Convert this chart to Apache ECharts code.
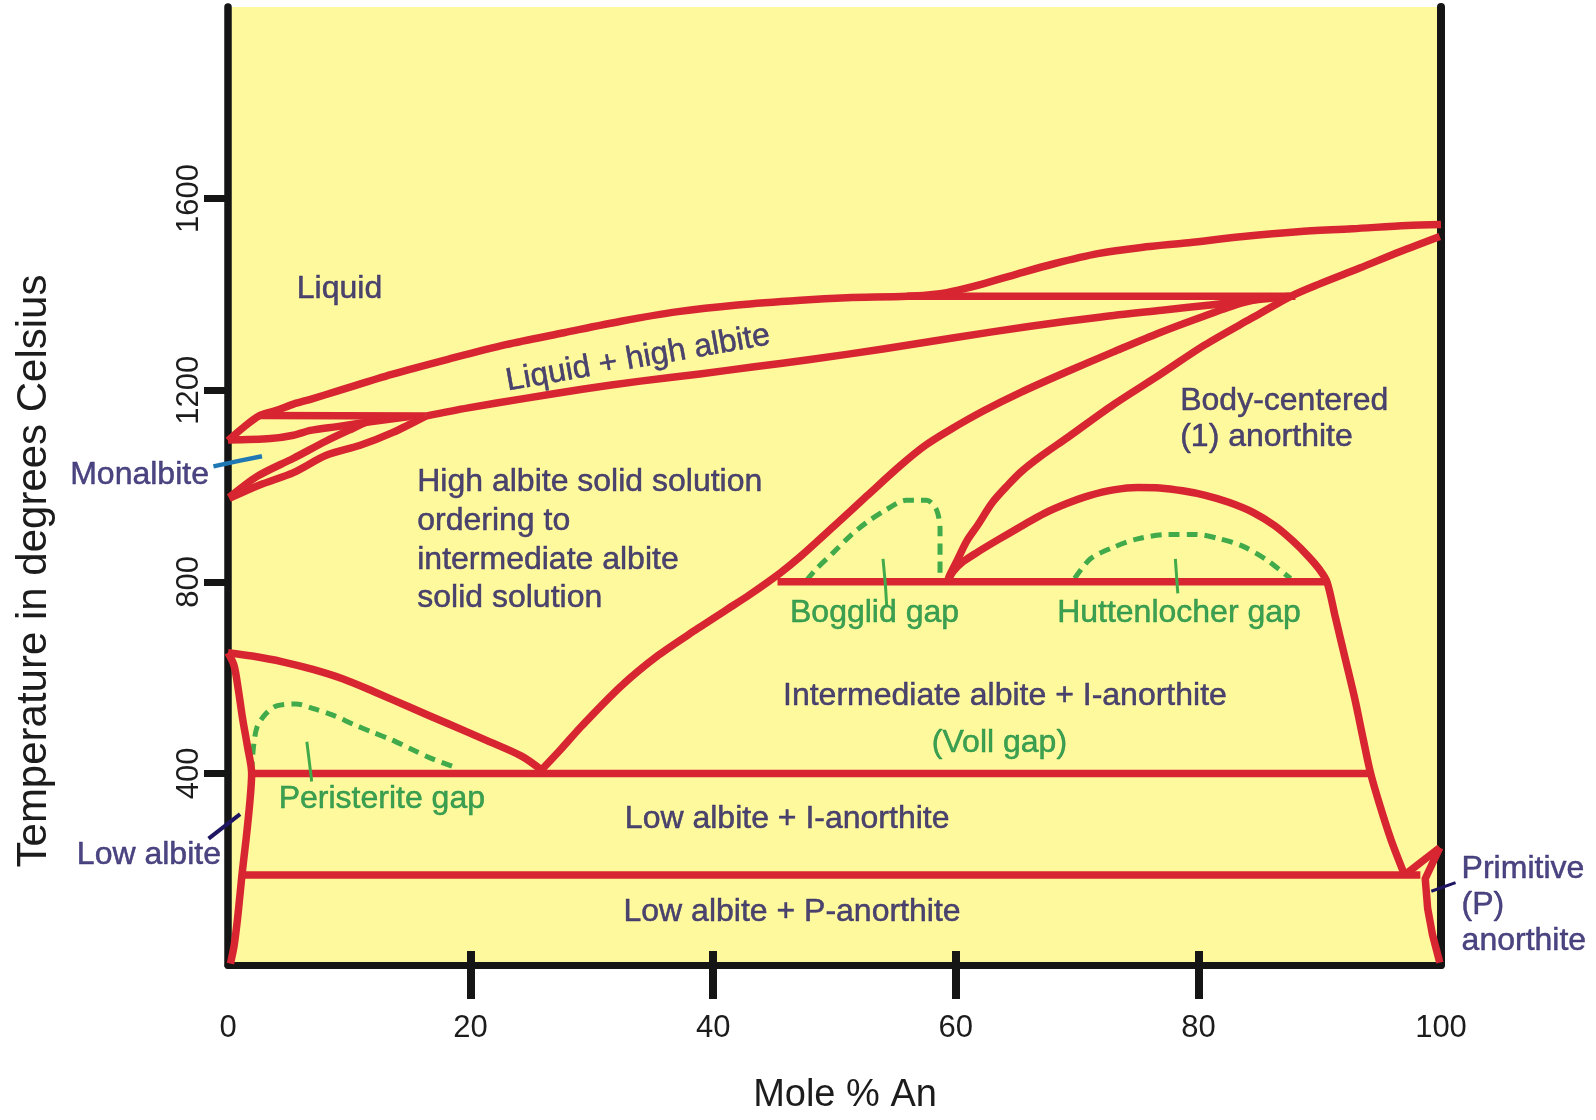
<!DOCTYPE html>
<html><head><meta charset="utf-8">
<script src="https://cdn.jsdelivr.net/npm/echarts@6/dist/echarts.min.js"></script>
<style>html,body{margin:0;padding:0;background:#fff}#c{width:1596px;height:1120px}</style>
</head><body><div id="c"></div>
<script>
// ---- axis ticks ----
const xTickValues = [20, 40, 60, 80];
const xLabelValues = [0, 20, 40, 60, 80, 100];
const yTickValues = [400, 800, 1200, 1600];

// ---- phase boundaries (Mole % An, temperature C) ----
const liquidus = [[0,1095],[1.3,1123],[2.6,1147],[4.0,1158],[5.4,1171],[6.8,1181],[9.0,1198],[13.5,1233],[18.2,1265],[22.9,1295],[27.7,1320],[32.4,1344],[37.1,1364],[42,1378],[47.2,1388],[51,1393],[56,1396],[58.5,1401],[60.2,1409],[62.4,1423],[65.1,1443],[68.1,1464],[71.7,1485],[75.3,1498],[79.2,1508],[83.7,1521],[88.2,1531],[92.7,1537],[97.2,1544],[100,1546]];
const tipBar = [[2.6,1147],[16.3,1146]];
const albiteSolidus = [[0,1096],[3.5,1099],[5.4,1106],[6.8,1116],[9.0,1124],[11.4,1133],[15,1145]];
const monalbiteUpper = [[0.1,976],[2.4,1020],[5.4,1058],[8.1,1094],[10.1,1118],[11.6,1135],[13,1145]];
const monalbiteLower = [[0.1,974],[2.6,1002],[5.4,1028],[8.1,1064],[10.9,1085],[13.6,1112],[16.3,1146]];
const solidus = [[16.3,1146],[19.8,1163],[24.5,1183],[29.2,1202],[34.0,1219],[38.9,1234],[43.4,1249],[48,1264],[54,1286],[60,1310],[66,1333],[72,1353],[77,1367],[81,1378],[84.5,1388],[87.5,1396]];
const plateau = [[56,1396],[88,1396]];
const anorthiteBoundary = [[99.9,1521],[96.6,1489],[93.3,1455],[90,1422],[87.7,1397],[84.3,1349],[80.5,1294],[76.8,1232],[73.0,1170],[69.2,1101],[67,1062],[65.4,1030],[64.3,1002],[63,965],[61.8,918],[60.9,885],[60.1,844],[59.5,814],[59.3,800]];
const albiteBoundary = [[25.8,406],[27.5,452],[29.2,500],[32.4,582],[35.5,647],[38.7,702],[41,740],[43,773],[45.5,818],[47.2,853],[49.9,915],[52.7,980],[55.4,1042],[57.5,1085],[59.5,1117],[62.3,1157],[65.4,1196],[69.2,1239],[73,1280],[76.8,1320],[80.5,1355],[83.6,1382],[86,1396]];
const iAnorthiteDome = [[59.3,800],[59.8,822],[60.6,842],[61.8,862],[63.5,888],[65.4,916],[67.3,943],[69.2,964],[71,980],[73,992],[75,997],[76.8,996],[78.7,990],[80.5,981],[82.5,966],[84.5,945],[86.3,917],[87.8,885],[89.1,852],[90,825],[90.6,800],[91.3,725],[92.1,640],[92.9,555],[93.6,470],[94.2,400],[95,330],[95.9,260],[97.0,188]];
const pTriangleA = [[97.0,188],[99.9,245]];
const pTriangleB = [[99.9,245],[98.7,180],[98.9,118],[99.3,63],[99.9,5]];
const lowAlbiteSolvus = [[0,652],[0.5,625],[0.85,575],[1.2,515],[1.6,457],[1.95,400],[1.8,340],[1.5,265],[1.15,188],[0.8,100],[0.5,40],[0.2,3]];
const peristeriteTop = [[0,652],[2,645],[4.5,633],[7,617],[9.5,597],[12,571],[15,538],[18.2,503],[21.4,468],[24.2,436],[25.8,408]];
const line400 = [[1.95,400],[94.2,400]];
const line800 = [[45.3,800],[90.6,800]];
const line188 = [[1.15,188],[98.3,188]];

// ---- miscibility gaps (dashed) ----
const peristeriteGap = [[1.95,402],[2.1,455],[2.4,497],[3.1,524],[4.0,541],[5.6,545],[7.2,534],[8.7,521],[10.3,503],[11.9,486],[13.5,470],[15.0,452],[16.6,433],[18.8,412]];
const bogglidGap = [[47.7,803],[48.5,827],[49.9,861],[51.3,896],[52.6,923],[54.3,951],[55.9,970],[57.6,970],[58.4,951],[58.7,909],[58.7,854],[58.7,803]];
const huttenlocherGap = [[69.8,807],[71.1,848],[73,872],[74.9,889],[77.5,899],[79.8,899],[81.7,890],[83.6,875],[85.5,848],[86.6,827],[87.6,807]];

// ---- leader lines ----
const peristeritePtr = [[6.5,466],[6.7,425],[6.9,383]];
const bogglidPtr = [[54.0,848],[54.2,793],[54.3,751]];
const huttenPtr = [[78.1,848],[78.3,776]];
const monalbitePtr = [[-1.2,1041],[1.0,1053],[2.8,1062]];
const lowAlbitePtr = [[-1.6,264],[1.0,315]];
const primitivePtr = [[99.2,154],[101.2,172]];

// ---- region labels ----
const labelText = ['Liquid','Liquid + high albite','Monalbite','High albite solid solution\nordering to\nintermediate albite\nsolid solution','Body-centered\n(1) anorthite','Bogglid gap','Huttenlocher gap','Intermediate albite + I-anorthite','(Voll gap)','Peristerite gap','Low albite + I-anorthite','Low albite + P-anorthite','Low albite','Primitive\n(P)\nanorthite'];
const labelX = [9.19, 33.8, -1.57, 15.6, 78.5, 53.3, 78.4, 64.05, 63.6, 12.68, 46.1, 46.5, -0.58, 101.7];
const labelT = [1411, 1266, 1022, 886, 1140, 735, 735, 561, 464, 346, 304, 111, 229, 125];

// ---- styles ----
const RED = '#D72631', GREEN = '#41AB4B', GTEXT = '#0C8A3E', NAVY = '#1E1662', BLUE = '#1F78B4', BLACK = '#151515', AXT = '#1c1c1c';
const FONT = '"Liberation Sans", Arial, sans-serif';
const labelStyle = [
  {c:NAVY}, {c:NAVY, rot:10}, {c:NAVY, align:'right'}, {c:NAVY, align:'left', lh:38.7}, {c:NAVY, align:'left', lh:36},
  {c:GTEXT}, {c:GTEXT}, {c:NAVY}, {c:GTEXT}, {c:GTEXT}, {c:NAVY}, {c:NAVY}, {c:NAVY, align:'right'}, {c:NAVY, align:'left', lh:36}
];

function lineSeries(data, color, width, smooth, dashed) {
  return {type:'line', data:data, symbol:'none', showSymbol:false, smooth: smooth ? 0.3 : false, clip:false, silent:true,
    xAxisIndex:0, yAxisIndex:0, z: dashed ? 4 : 5,
    lineStyle:{color:color, width:width, cap:'butt', join:'round', type: dashed ? [11,7] : 'solid'}};
}
function pointerSeries(data, color, width) {
  return {type:'custom', coordinateSystem:'cartesian2d', xAxisIndex:0, yAxisIndex:0, silent:true, clip:false, z:6,
    data:[[0,0]],
    renderItem: function(params, api) {
      return {type:'polyline', shape:{points: data.map(function(p){ return api.coord(p); })},
        style:{stroke:color, lineWidth:width, fill:null, lineCap:'butt'}};
    }};
}

const series = [];
[[liquidus,true],[tipBar,false],[albiteSolidus,true],[monalbiteUpper,true],[monalbiteLower,true],[solidus,true],[plateau,false],
 [anorthiteBoundary,true],[albiteBoundary,true],[iAnorthiteDome,true],[pTriangleA,false],[pTriangleB,false],[lowAlbiteSolvus,true],
 [peristeriteTop,true],[line400,false],[line800,false],[line188,false]].forEach(function(p){ series.push(lineSeries(p[0], RED, 7.5, p[1], false)); });
[peristeriteGap,bogglidGap,huttenlocherGap].forEach(function(d){ series.push(lineSeries(d, GREEN, 5, true, true)); });
[peristeritePtr,bogglidPtr,huttenPtr].forEach(function(d){ series.push(lineSeries(d, GREEN, 3, false, false)); });
series.push(pointerSeries(monalbitePtr, BLUE, 4.5));
series.push(pointerSeries(lowAlbitePtr, NAVY, 4));
series.push(pointerSeries(primitivePtr, NAVY, 3));

labelText.forEach(function(t, i){
  const s = labelStyle[i];
  series.push({type:'scatter', data:[[labelX[i], labelT[i]]], symbolSize:0.1, itemStyle:{color:'transparent'}, clip:false, silent:true, z:10,
    label:{show:true, position:'inside', formatter:t, color:s.c, fontSize:32, fontFamily:FONT,
      textBorderColor:s.c, textBorderWidth:0.5,
      align: s.align || 'center', verticalAlign:'middle', lineHeight: s.lh || 36, rotate: s.rot || 0}});
});

const chart = echarts.init(document.getElementById('c'));
chart.setOption({
  animation:false,
  backgroundColor:'#ffffff',
  grid:{left:228, right:155, top:7, bottom:145, show:true, backgroundColor:'#FFF99D', borderWidth:0},
  xAxis:[
    {type:'value', min:0, max:100, interval:20, position:'bottom',
      axisLine:{show:true, onZero:false, lineStyle:{color:BLACK, width:7}},
      axisTick:{show:true, inside:false, length:34, customValues:xTickValues, lineStyle:{color:BLACK, width:8}},
      axisLabel:{margin:48, fontSize:31, color:AXT, fontFamily:FONT, customValues:xLabelValues, formatter:function(v){return String(v);}},
      splitLine:{show:false},
      name:'Mole % An', nameLocation:'middle', nameGap:112,
      nameTextStyle:{fontSize:38, color:AXT, fontFamily:FONT, padding:[0,0,0,21]}},
    {type:'value', min:0, max:100, interval:20, position:'bottom',
      axisLine:{show:false}, axisTick:{show:true, inside:true, length:14, customValues:xTickValues, lineStyle:{color:BLACK, width:8}},
      axisLabel:{show:false}, splitLine:{show:false}}
  ],
  yAxis:[
    {type:'value', min:0, max:2000, interval:400,
      axisLine:{show:true, onZero:false, lineStyle:{color:BLACK, width:7.5}},
      axisTick:{show:true, length:24, customValues:yTickValues, lineStyle:{color:BLACK, width:7}},
      axisLabel:{customValues:yTickValues, rotate:90, margin:23, fontSize:31, color:AXT, fontFamily:FONT, formatter:function(v){return String(v);}},
      splitLine:{show:false},
      name:'Temperature in degrees Celsius', nameLocation:'middle', nameRotate:90, nameGap:173,
      nameTextStyle:{fontSize:42, color:AXT, fontFamily:FONT, padding:[0,170,0,0]}},
    {type:'value', min:0, max:2000, position:'right',
      axisLine:{show:true, onZero:false, lineStyle:{color:BLACK, width:8}},
      axisTick:{show:false}, axisLabel:{show:false}, splitLine:{show:false}}
  ],
  series: series
});
</script>
</body></html>
